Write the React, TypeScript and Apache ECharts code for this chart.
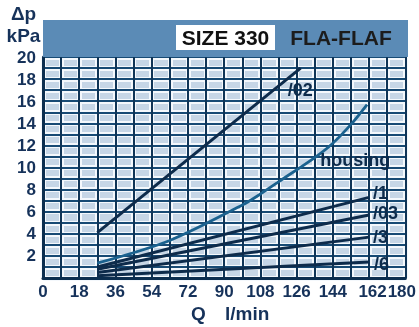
import React, { useEffect, useRef } from 'react';
import * as echarts from 'echarts';

const FONT = '"Liberation Sans", Arial, Helvetica, sans-serif';
const NAVY = '#0d2b4b';
const TEAL = '#1b628f';
const TEXT = '#16325a';

// Flow Q (l/min) and pressure drop Δp (kPa)
const lowQ = [27, 162];
const line02Q = [27, 128];
const line02 = [4.1, 19.0];
const housingQ = [27, 63, 99, 108, 117, 135, 144, 153, 161];
const housing = [1.35, 3.4, 6.6, 7.6, 8.7, 10.9, 12.2, 13.9, 15.7];
const line1 = [1.0, 7.3];
const line03 = [0.8, 5.7];
const line3 = [0.5, 3.7];
const line6 = [0.2, 1.45];

const pairs = (qs: number[], vs: number[]) => qs.map((q, i) => [q, vs[i]]);

const labelStyle = {
  color: NAVY,
  fontFamily: FONT,
  fontWeight: 'bold' as const,
  fontSize: 18,
};

function lineSeries(name: string, data: any[], color: string, width: number, endText: string | null, offset: number[]) {
  return {
    name,
    type: 'line',
    xAxisIndex: 1,
    yAxisIndex: 1,
    data,
    symbol: 'none',
    smooth: false,
    z: 5,
    lineStyle: { color, width, cap: 'butt' },
    endLabel: endText
      ? { show: true, formatter: endText, offset, ...labelStyle }
      : { show: false },
  };
}

export default function App() {
  const ref = useRef<HTMLDivElement>(null);
  useEffect(() => {
    if (!ref.current) return;
    const chart = echarts.init(ref.current, null, { renderer: 'svg' });

    const halo = { color: '#f4f8fc', width: 5 };
    const housingData = pairs(housingQ, housing).map((p, i) =>
      i === 5
        ? { value: p, label: { show: true, position: 'right', distance: 5, offset: [0, 2], formatter: 'housing', ...labelStyle } }
        : p
    );

    const housingSeries: any = {
      ...lineSeries('housing', housingData, TEAL, 2.8, null, [0, 0]),
      symbol: 'circle',
      symbolSize: 1,
      showSymbol: true,
      smooth: 0.3,
      itemStyle: { color: 'rgba(0,0,0,0)', borderWidth: 0 },
      label: { show: false },
    };

    const option: any = {
      animation: false,
      grid: {
        left: 43, right: 11, top: 57, bottom: 49,
        show: true, backgroundColor: '#c6d6e6', borderWidth: 0,
      },
      xAxis: [
        {
          type: 'value', min: 0, max: 180, interval: 18, z: 0, position: 'bottom',
          axisLine: { show: false }, axisTick: { show: false }, axisLabel: { show: false },
          splitLine: { show: true, lineStyle: halo },
          minorTick: { show: false, splitNumber: 2 },
          minorSplitLine: { show: true, lineStyle: halo },
        },
        {
          type: 'value', min: 0, max: 180, interval: 18, z: 1, position: 'bottom',
          axisLine: { show: true, onZero: false, lineStyle: { color: '#0c2e4f', width: 3 } },
          axisTick: { show: false },
          axisLabel: {
            margin: 5, color: TEXT, fontFamily: FONT, fontWeight: 'bold', fontSize: 17,
            showMinLabel: true, showMaxLabel: true, hideOverlap: false,
            formatter: (v: number) => (v === 162 ? '{r|162}' : v === 180 ? '{l|180}' : String(v)),
            rich: {
              r: { padding: [0, 0, 0, 7], color: TEXT, fontFamily: FONT, fontWeight: 'bold', fontSize: 17 },
              l: { padding: [0, 7, 0, 0], color: TEXT, fontFamily: FONT, fontWeight: 'bold', fontSize: 17 },
            },
          },
          splitLine: { show: true, lineStyle: { color: '#0f3456', width: 2 } },
          minorTick: { show: false, splitNumber: 2 },
          minorSplitLine: { show: true, lineStyle: { color: '#0f3456', width: 2 } },
        },
      ],
      yAxis: [
        {
          type: 'value', min: 0, max: 20, interval: 2, z: 0, position: 'left',
          axisLine: { show: false }, axisTick: { show: false }, axisLabel: { show: false },
          splitLine: { show: true, lineStyle: halo },
          minorTick: { show: false, splitNumber: 2 },
          minorSplitLine: { show: true, lineStyle: halo },
        },
        {
          type: 'value', min: 0, max: 20, interval: 2, z: 1, position: 'left',
          axisLine: { show: true, onZero: false, lineStyle: { color: '#0c2e4f', width: 3 } },
          axisTick: { show: false },
          axisLabel: {
            margin: 7, color: TEXT, fontFamily: FONT, fontWeight: 'bold', fontSize: 17,
            padding: [10, 0, 0, 0], showMaxLabel: true,
            formatter: (v: number) => (v === 0 ? '' : String(v)),
          },
          splitLine: { show: true, lineStyle: { color: '#174a74', width: 2 } },
          minorTick: { show: false, splitNumber: 2 },
          minorSplitLine: { show: true, lineStyle: { color: '#174a74', width: 2 } },
        },
      ],
      series: [
        lineSeries('/02', pairs(line02Q, line02), NAVY, 3, '/02', [-21, 22]),
        housingSeries,
        lineSeries('/1', pairs(lowQ, line1), NAVY, 3, '/1', [-4, -4]),
        lineSeries('/03', pairs(lowQ, line03), NAVY, 3, '/03', [-4, -2]),
        lineSeries('/3', pairs(lowQ, line3), NAVY, 3, '/3', [-4, 0]),
        lineSeries('/6', pairs(lowQ, line6), NAVY, 3, '/6', [-3, 2]),
      ],
      graphic: [
        { type: 'rect', shape: { x: 43, y: 20, width: 365, height: 37 }, style: { fill: '#5b8bb6' }, z: 10 },
        { type: 'rect', shape: { x: 176, y: 25, width: 99, height: 25 }, style: { fill: '#ffffff' }, z: 11 },
        { type: 'text', x: 225.5, y: 37.5, z: 12, style: { text: 'SIZE 330', fill: '#111111', font: `bold 21px ${FONT}`, textAlign: 'center', textVerticalAlign: 'middle' } },
        { type: 'text', x: 341, y: 37.5, z: 12, style: { text: 'FLA-FLAF', fill: '#1c1c1c', font: `bold 21px ${FONT}`, textAlign: 'center', textVerticalAlign: 'middle' } },
        { type: 'text', x: 23.5, y: 13, z: 12, style: { text: 'Δp', fill: TEXT, font: `bold 19px ${FONT}`, textAlign: 'center', textVerticalAlign: 'middle' } },
        { type: 'text', x: 23.5, y: 35, z: 12, style: { text: 'kPa', fill: TEXT, font: `bold 19px ${FONT}`, textAlign: 'center', textVerticalAlign: 'middle' } },
        { type: 'text', x: 198.5, y: 313.5, z: 12, style: { text: 'Q', fill: TEXT, font: `bold 19px ${FONT}`, textAlign: 'center', textVerticalAlign: 'middle' } },
        { type: 'text', x: 225, y: 313.5, z: 12, style: { text: 'l/min', fill: TEXT, font: `bold 19px ${FONT}`, textAlign: 'left', textVerticalAlign: 'middle' } },
      ],
    };
    chart.setOption(option);
    return () => chart.dispose();
  }, []);
  return <div ref={ref} style={{ position: 'fixed', left: 0, top: 0, width: 419, height: 327 }} />;
}
